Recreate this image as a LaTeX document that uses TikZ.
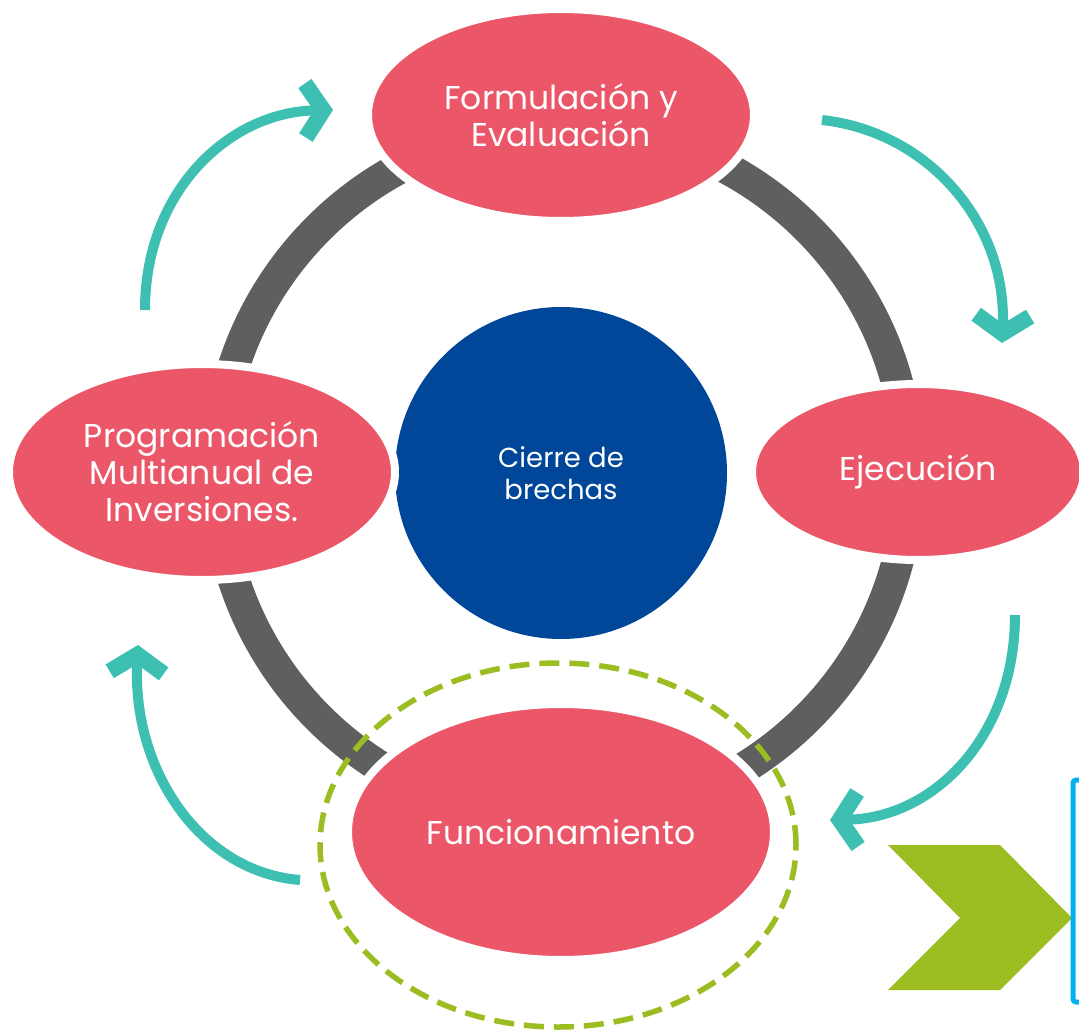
\documentclass[tikz,border=0pt]{standalone}
\usepackage{fontspec}
\setmainfont{Poppins}
\usetikzlibrary{shapes.geometric,arrows.meta}
\definecolor{pinkc}{HTML}{EB5769}
\definecolor{grayc}{HTML}{5F5F5F}
\definecolor{tealc}{HTML}{3DBFB2}
\definecolor{bluec}{HTML}{00479A}
\definecolor{greenc}{HTML}{9BBD21}
\definecolor{cyanc}{HTML}{00B0F0}
\tikzset{
  stage/.style={ellipse, fill=pinkc, draw=white, line width=8pt, text=white, align=center, inner sep=0pt, font=\fontsize{33}{37}\selectfont},
  cycarrow/.style={draw=tealc, line width=10pt, -{Straight Barb[length=18pt,width=54pt,line width=16pt]}},
}
\begin{document}
\begin{tikzpicture}[x=1pt,y=-1pt]
\useasboundingbox (0,0) rectangle (1079,1030);
% ring
\draw[grayc, line width=32pt] (563,473) circle (346);
% center
\node[circle, fill=bluec, minimum size=332pt, inner sep=0pt, text=white, align=center, font=\fontsize{27.5}{32}\selectfont] (c) at (561,473) {Cierre de\\brechas};
% stages
\node[stage, minimum width=386pt, minimum height=212pt] (f) at (561,115) {Formulación y\\Evaluación};
\node[stage, minimum width=332pt, minimum height=176pt] (e) at (918,472) {Ejecución};
\node[stage, minimum width=386pt, minimum height=216pt] (p) at (202,472) {Programación\\Multianual de\\Inversiones.};
\node[stage, minimum width=426pt, minimum height=256pt] (u) at (561,832) {Funcionamiento};
% dashed ring
\node[ellipse, draw=greenc, line width=5.5pt, dash pattern=on 20pt off 10pt, minimum width=476pt, minimum height=364pt, inner sep=0pt] (d) at (558,845) {};
% teal arrows
\coordinate (a1s) at (145,310); \coordinate (a1e) at (333,110);
\coordinate (a2s) at (822,120); \coordinate (a2e) at (1002,343);
\coordinate (a3s) at (1015,615); \coordinate (a3e) at (830,820);
\coordinate (a4s) at (300,880); \coordinate (a4e) at (138,645);
\draw[cycarrow] (a1s) .. controls (145,190) and (230,112) .. (a1e);
\draw[cycarrow] (a2s) .. controls (930,132) and (1007,225) .. (a2e);
\draw[cycarrow] (a3s) .. controls (1015,735) and (935,818) .. (a3e);
\draw[cycarrow] (a4s) .. controls (200,872) and (132,770) .. (a4e);
% green chevron
\fill[greenc] (888,845) coordinate (g1) -- (1000,845) -- (1072,918) -- (1000,990) -- (888,990) -- (960,918) -- cycle;
% cyan bracket
\draw[cyanc, line width=5pt, rounded corners=3pt] (1110,780) -- (1073,780) -- (1073,1002) -- (1110,1002);
\end{tikzpicture}
\end{document}
